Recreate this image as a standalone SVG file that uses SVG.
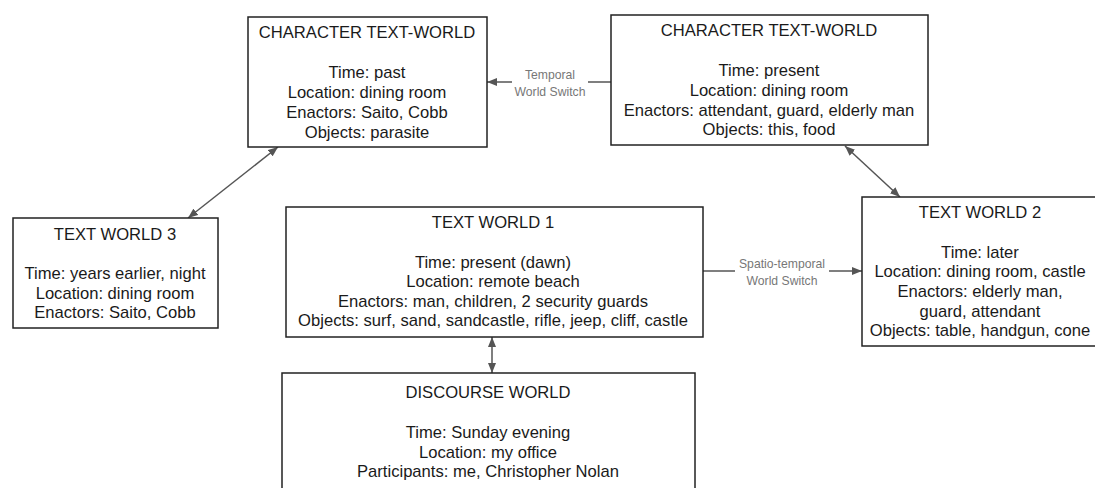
<svg xmlns="http://www.w3.org/2000/svg" width="1095" height="488" viewBox="0 0 1095 488">
<style>
.box{fill:#fff;stroke:#222;stroke-width:1.5}
.t{font-family:"Liberation Sans",Arial,sans-serif;font-size:16.6px;fill:#1a1a1a;text-anchor:middle}
.lbl{font-family:"Liberation Sans",Arial,sans-serif;font-size:12.2px;fill:#777;text-anchor:middle}
.c{stroke:#555;stroke-width:1.5;fill:none}
</style>
<defs>
<marker id="ah" viewBox="0 0 10 8" refX="10" refY="4" markerWidth="10" markerHeight="8" markerUnits="userSpaceOnUse" orient="auto-start-reverse">
<path d="M0,0 L10,4 L0,8 Z" fill="#555"/>
</marker>
</defs>
<rect width="1095" height="488" fill="#fff"/>
<g id="connectors">
<line class="c" x1="188" y1="218" x2="278" y2="147" marker-start="url(#ah)" marker-end="url(#ah)"/>
<line class="c" x1="845" y1="146" x2="900" y2="197" marker-start="url(#ah)" marker-end="url(#ah)"/>
<line class="c" x1="492" y1="337" x2="492" y2="373" marker-start="url(#ah)" marker-end="url(#ah)"/>
<line class="c" x1="611" y1="82" x2="588" y2="82"/>
<line class="c" x1="512" y1="82" x2="487" y2="82" marker-end="url(#ah)"/>
<text class="lbl" x="550" y="79">Temporal</text>
<text class="lbl" x="550" y="96">World Switch</text>
<line class="c" x1="703" y1="271" x2="735" y2="271"/>
<line class="c" x1="829" y1="271" x2="862" y2="271" marker-end="url(#ah)"/>
<text class="lbl" x="782" y="268">Spatio-temporal</text>
<text class="lbl" x="782" y="285">World Switch</text>
</g>
<g id="char-past">
<rect class="box" x="248" y="17" width="239" height="130"/>
<text class="t" x="367" y="38">CHARACTER TEXT-WORLD</text>
<text class="t" x="367" y="78">Time: past</text>
<text class="t" x="367" y="98">Location: dining room</text>
<text class="t" x="367" y="118">Enactors: Saito, Cobb</text>
<text class="t" x="367" y="138">Objects: parasite</text>
</g>
<g id="char-present">
<rect class="box" x="611" y="15" width="317" height="130"/>
<text class="t" x="769" y="36">CHARACTER TEXT-WORLD</text>
<text class="t" x="769" y="76">Time: present</text>
<text class="t" x="769" y="96">Location: dining room</text>
<text class="t" x="769" y="116">Enactors: attendant, guard, elderly man</text>
<text class="t" x="769" y="135">Objects: this, food</text>
</g>
<g id="tw3">
<rect class="box" x="13" y="218" width="205" height="110"/>
<text class="t" x="115" y="240">TEXT WORLD 3</text>
<text class="t" x="115" y="279">Time: years earlier, night</text>
<text class="t" x="115" y="299">Location: dining room</text>
<text class="t" x="115" y="318">Enactors: Saito, Cobb</text>
</g>
<g id="tw1">
<rect class="box" x="286" y="207" width="417" height="130"/>
<text class="t" x="493" y="228">TEXT WORLD 1</text>
<text class="t" x="493" y="268">Time: present (dawn)</text>
<text class="t" x="493" y="287">Location: remote beach</text>
<text class="t" x="493" y="307">Enactors: man, children, 2 security guards</text>
<text class="t" x="493" y="326">Objects: surf, sand, sandcastle, rifle, jeep, cliff, castle</text>
</g>
<g id="tw2">
<rect class="box" x="862" y="197" width="238" height="149"/>
<text class="t" x="980" y="218">TEXT WORLD 2</text>
<text class="t" x="980" y="258">Time: later</text>
<text class="t" x="980" y="277">Location: dining room, castle</text>
<text class="t" x="980" y="297">Enactors: elderly man,</text>
<text class="t" x="980" y="317">guard, attendant</text>
<text class="t" x="980" y="336">Objects: table, handgun, cone</text>
</g>
<g id="discourse">
<rect class="box" x="282" y="373" width="413" height="130"/>
<text class="t" x="488" y="398">DISCOURSE WORLD</text>
<text class="t" x="488" y="438">Time: Sunday evening</text>
<text class="t" x="488" y="458">Location: my office</text>
<text class="t" x="488" y="477">Participants: me, Christopher Nolan</text>
</g>
</svg>
